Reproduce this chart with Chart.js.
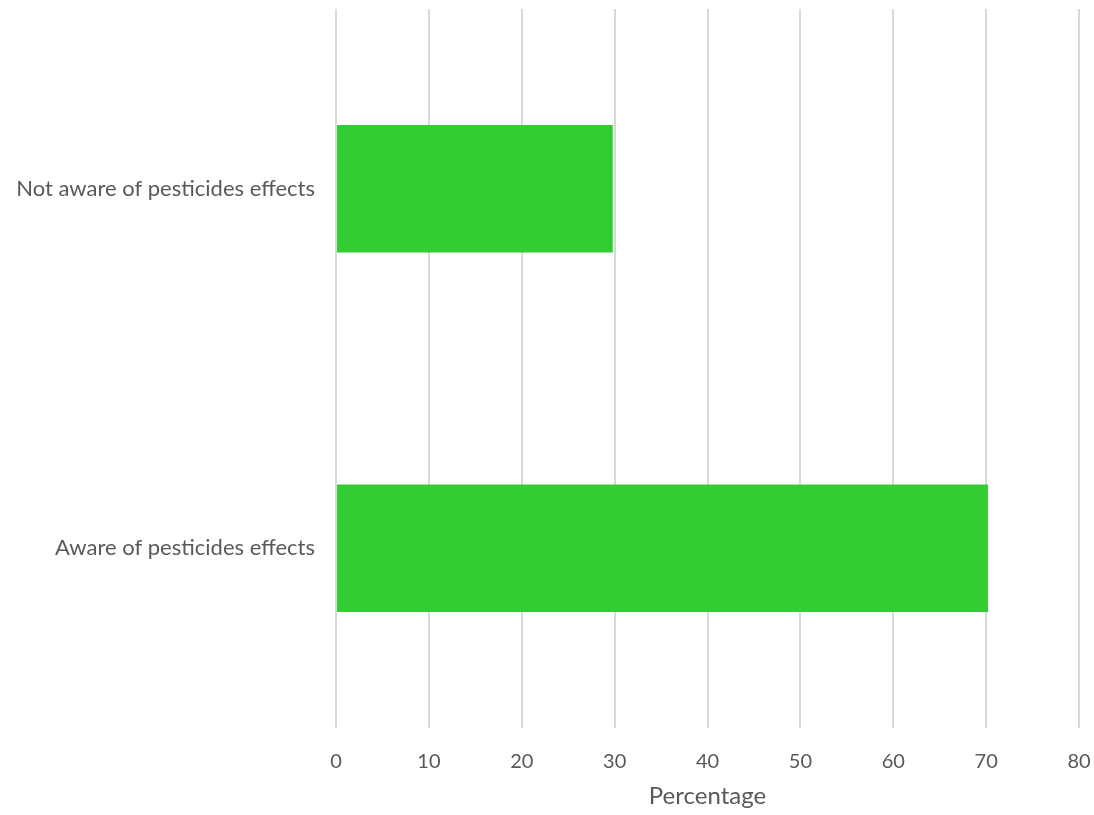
<!DOCTYPE html>
<html>
<head>
<meta charset="utf-8">
<script src="https://cdn.jsdelivr.net/npm/chart.js@4"></script>
<style>
  html, body { margin: 0; padding: 0; background: #fff; }
  #wrap { width: 1094px; height: 815px; }
</style>
</head>
<body>
<div id="wrap"><canvas id="awarenessChart"></canvas></div>
<script>
const categories = ["Not aware of pesticides effects", "Aware of pesticides effects"];
const percentages = [29.8, 70.2];
const xTicks = [0, 10, 20, 30, 40, 50, 60, 70, 80];

(function() {
    "use strict"

    const fontFamily = "Lato, 'Noto Sans', sans-serif"
    const textColor = "#595959"

    try {
        var ctx = document.getElementById("awarenessChart");
        var myChart = new Chart(ctx, {
            type: 'bar',
            data: {
                labels: categories,
                datasets: [{
                    data: percentages,
                    backgroundColor: "#33cc33",
                    borderWidth: 0,
                    categoryPercentage: 1,
                    barPercentage: 0.355
                }]
            },
            options: {
                indexAxis: 'y',
                responsive: true,
                maintainAspectRatio: false,
                animation: false,
                layout: { padding: { top: 9, right: 15, left: 0, bottom: 0 } },
                plugins: {
                    legend: { display: false },
                    tooltip: { enabled: false }
                },
                scales: {
                    x: {
                        min: 0,
                        max: 80,
                        afterBuildTicks: scale => {
                            scale.ticks = xTicks.map(v => ({ value: v }))
                        },
                        afterFit: scale => {
                            scale.height = 87
                            scale.paddingLeft = 0
                            scale.paddingRight = 0
                        },
                        grid: { color: "#d9d9d9", lineWidth: 2, drawTicks: false },
                        border: { display: false },
                        ticks: {
                            color: textColor,
                            padding: 22,
                            font: { family: fontFamily, size: 20 }
                        },
                        title: {
                            display: true,
                            text: "Percentage",
                            color: textColor,
                            padding: { top: 9 },
                            font: { family: fontFamily, size: 24 }
                        }
                    },
                    y: {
                        afterFit: scale => {
                            scale.width = 336
                            scale.paddingTop = 0
                            scale.paddingBottom = 0
                        },
                        grid: { display: false, drawTicks: false },
                        border: { display: false },
                        ticks: {
                            color: textColor,
                            padding: 21,
                            font: { family: fontFamily, size: 22 }
                        }
                    }
                }
            }
        });
    } catch (error) {
        console.log(error);
    }
})()
</script>
</body>
</html>
